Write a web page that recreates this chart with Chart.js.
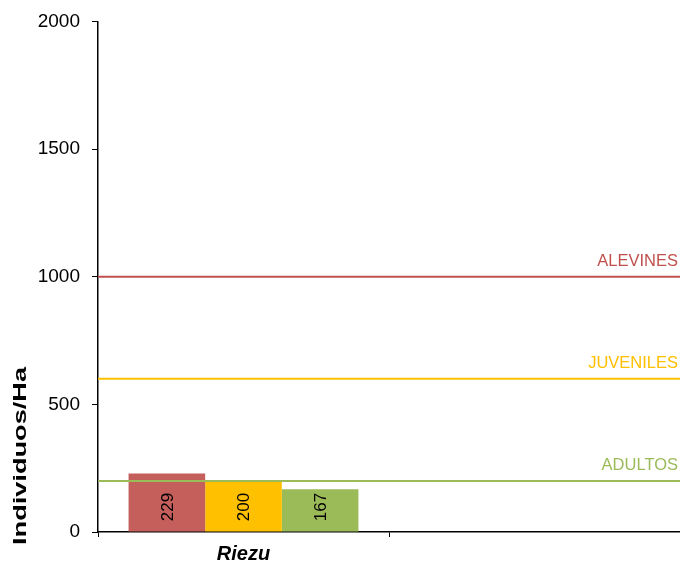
<!DOCTYPE html>
<html>
<head>
<meta charset="utf-8">
<script src="https://cdn.jsdelivr.net/npm/chart.js@4/dist/chart.umd.min.js"></script>
<style>
  html, body { margin: 0; padding: 0; background: #fff; }
  #wrap { width: 680px; height: 564px; }
</style>
</head>
<body>
<div id="wrap"><canvas id="chart"></canvas></div>
<script>
// categories (second one is an empty slot, as in the original sheet)
const categories = ['Riezu', ''];
const seriesNames = ['Alevines', 'Juveniles', 'Adultos'];
const alevines = [229, null];
const juveniles = [200, null];
const adultos = [167, null];
const seriesColors = ['#C55F5C', '#FFC000', '#9BBB59'];

// reference levels drawn as horizontal lines
const refNames = ['ALEVINES', 'JUVENILES', 'ADULTOS'];
const refValues = [1000, 600, 200];
const refColors = ['#C0504D', '#FFC000', '#9BBB59'];

const yTicks = [0, 500, 1000, 1500, 2000];
const yTitle = 'Individuos/Ha';

const FONT = 'Arial, "Liberation Sans", sans-serif';

const refLines = {
  id: 'refLines',
  afterDatasetsDraw(chart) {
    const ctx = chart.ctx;
    const area = chart.chartArea;
    const y = chart.scales.y;
    ctx.save();
    for (let i = 0; i < refValues.length; i++) {
      const py = y.getPixelForValue(refValues[i]);
      ctx.strokeStyle = refColors[i];
      ctx.lineWidth = 2;
      ctx.beginPath();
      ctx.moveTo(area.left, py);
      ctx.lineTo(area.right, py);
      ctx.stroke();
      ctx.fillStyle = refColors[i];
      ctx.font = '16.5px ' + FONT;
      ctx.textAlign = 'right';
      ctx.textBaseline = 'bottom';
      ctx.fillText(refNames[i], area.right - 2, py - 7);
    }
    ctx.restore();
  }
};

const barLabels = {
  id: 'barLabels',
  afterDraw(chart) {
    const ctx = chart.ctx;
    const y = chart.scales.y;
    ctx.save();
    ctx.font = '17px ' + FONT;
    ctx.fillStyle = '#000';
    ctx.textAlign = 'center';
    ctx.textBaseline = 'middle';
    chart.data.datasets.forEach(function (ds, di) {
      const meta = chart.getDatasetMeta(di);
      meta.data.forEach(function (bar, idx) {
        const v = ds.data[idx];
        if (v == null) return;
        const cy = y.getPixelForValue(0) - 25;
        ctx.save();
        ctx.translate(bar.x, cy);
        ctx.rotate(-Math.PI / 2);
        ctx.fillText(String(v), 0, 1);
        ctx.restore();
      });
    });
    ctx.restore();
  }
};

// y title sits low on the axis in the original, so draw it by hand
const yTitlePlugin = {
  id: 'yTitle',
  afterDraw(chart) {
    const ctx = chart.ctx;
    ctx.save();
    ctx.font = 'bold 19px ' + FONT;
    ctx.fillStyle = '#000';
    ctx.textAlign = 'center';
    ctx.textBaseline = 'middle';
    const w = ctx.measureText(yTitle).width;
    ctx.translate(21, 456);
    ctx.rotate(-Math.PI / 2);
    ctx.scale(178 / w, 1);
    ctx.fillText(yTitle, 0, 0);
    ctx.restore();
  }
};

const datasets = [alevines, juveniles, adultos].map(function (d, i) {
  return {
    label: seriesNames[i],
    data: d,
    backgroundColor: seriesColors[i],
    borderWidth: 0,
    barPercentage: 1,
    categoryPercentage: 0.79
  };
});

new Chart(document.getElementById('chart'), {
  type: 'bar',
  data: { labels: categories, datasets: datasets },
  plugins: [refLines, barLabels, yTitlePlugin],
  options: {
    responsive: true,
    maintainAspectRatio: false,
    animation: false,
    layout: { padding: { top: 20, left: 10, right: 0, bottom: 0 } },
    plugins: {
      legend: { display: false },
      tooltip: { enabled: false }
    },
    scales: {
      x: {
        offset: true,
        grid: {
          offset: true,
          drawOnChartArea: false,
          tickLength: 5,
          color: '#000',
          tickWidth: 1
        },
        border: { color: '#000', width: 1.5 },
        ticks: {
          color: '#000',
          padding: 5,
          font: { family: FONT, size: 20, weight: 'bold', style: 'italic' }
        },
        afterFit: function (scale) { scale.height = 32; }
      },
      y: {
        min: 0,
        max: 2000,
        afterBuildTicks: function (scale) { scale.ticks = yTicks.map(function (v) { return { value: v }; }); },
        grid: {
          drawOnChartArea: false,
          tickLength: 6,
          color: '#000'
        },
        border: { color: '#000', width: 1.5 },
        ticks: {
          color: '#000',
          padding: 12,
          callback: function (v) { return String(v); },
          font: { family: FONT, size: 19, lineHeight: 1 }
        },
        afterFit: function (scale) { scale.width = 88; }
      }
    }
  }
});
</script>
</body>
</html>
